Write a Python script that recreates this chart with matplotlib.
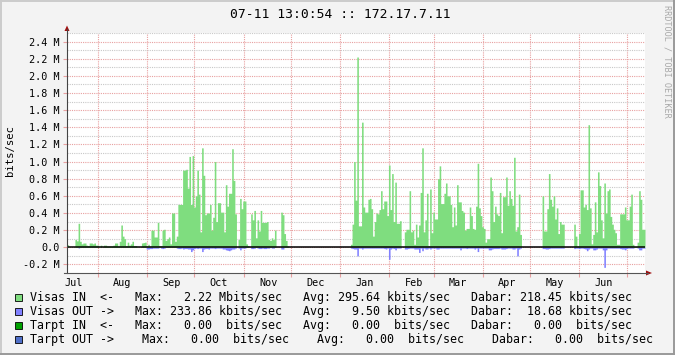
import datetime as dt
import numpy as np
import matplotlib
matplotlib.use("Agg")
import matplotlib.pyplot as plt
from matplotlib.patches import Rectangle, Polygon

plt.rcParams['font.family'] = 'DejaVu Sans Mono'

title = "07-11 13:0:54 :: 172.17.7.11"
y_label = "bits/sec"
watermark = "RRDTOOL / TOBI OETIKER"

# one value per day, starting 2008-07-12 12:00, values in Mbit/s
start = dt.datetime(2008, 7, 12, 12)

month_labels = ["Jul", "Aug", "Sep", "Oct", "Nov", "Dec",
                "Jan", "Feb", "Mar", "Apr", "May", "Jun"]
month_label_dates = [dt.datetime(2008, 7, 16, 12), dt.datetime(2008, 8, 16, 12),
                     dt.datetime(2008, 9, 16, 12), dt.datetime(2008, 10, 16, 12),
                     dt.datetime(2008, 11, 16, 12), dt.datetime(2008, 12, 16, 12),
                     dt.datetime(2009, 1, 16, 12), dt.datetime(2009, 2, 16, 12),
                     dt.datetime(2009, 3, 16, 12), dt.datetime(2009, 4, 16, 12),
                     dt.datetime(2009, 5, 16, 12), dt.datetime(2009, 6, 16, 12)]
month_starts = [dt.datetime(2008, 8, 1), dt.datetime(2008, 9, 1), dt.datetime(2008, 10, 1),
                dt.datetime(2008, 11, 1), dt.datetime(2008, 12, 1), dt.datetime(2009, 1, 1),
                dt.datetime(2009, 2, 1), dt.datetime(2009, 3, 1), dt.datetime(2009, 4, 1),
                dt.datetime(2009, 5, 1), dt.datetime(2009, 6, 1), dt.datetime(2009, 7, 1)]

y_ticks = [-0.2, 0.0, 0.2, 0.4, 0.6, 0.8, 1.0, 1.2, 1.4, 1.6, 1.8, 2.0, 2.2, 2.4]

# Visas IN (Jul 12 - Nov 28)
in_jul_nov = [0.03, 0, 0, 0, 0, 0.09, 0.075, 0.28, 0.07, 0.04,
              0.05, 0.05, 0.025, 0.02, 0.05, 0.05, 0.04, 0.05, 0.025, 0.025,
              0, 0.025, 0, 0.025, 0.025, 0.015, 0.015, 0.015, 0.015, 0.025,
              0.05, 0.05, 0.015, 0.07, 0.26, 0.13, 0.1, 0.02, 0.06, 0.025,
              0.04, 0.07, 0.02, 0.02, 0, 0, 0, 0.05, 0.055, 0.06,
              0.015, 0.035, 0.015, 0.2, 0.2, 0.12, 0.12, 0.29, 0.02, 0.02,
              0.2, 0.21, 0.08, 0.1, 0.12, 0.04, 0.4, 0.4, 0.07, 0.13,
              0.5, 0.5, 0.5, 0.9, 0.9, 0.91, 0.69, 1.06, 0.5, 1.07,
              0.47, 0.6, 0.9, 0.62, 0.18, 1.16, 0.84, 0.38, 0.4, 0.4,
              0.5, 0.2, 0.35, 1.0, 0.3, 0.52, 0.52, 0.41, 0.41, 0.18,
              0.73, 0.48, 0.63, 0.63, 1.15, 0.78, 0.39, 0.0, 0.09, 0.57,
              0.45, 0.54, 0.54, 0.04, 0.02, 0, 0.39, 0.32, 0.43, 0.11,
              0.32, 0.19, 0.43, 0.29, 0.29, 0.29, 0.3, 0.09, 0.08, 0.11,
              0.09, 0.2, 0, 0, 0, 0.41, 0.38, 0.16, 0.08, 0.015]
# Visas IN (Jan 7 - Apr 25)
in_jan_apr = [0.035, 0.27, 1.0, 0.55, 2.22, 0.25, 0.25, 1.46, 0.47, 0.41,
              0.41, 0.56, 0.57, 0.45, 0.13, 0.3, 0.4, 0.39, 0.44, 0.66,
              0.45, 0.54, 0.54, 0.37, 0.96, 0.44, 0.86, 0.3, 0.76, 0.28,
              0.28, 0.31, 0, 0, 0.18, 0.21, 0.21, 0.66, 0.18, 0.2,
              0.035, 0.27, 0.12, 0.26, 0.64, 1.16, 0.18, 0.32, 0.63, 0.02,
              0.68, 0.17, 0.41, 0.33, 0.33, 0.8, 0.95, 0.51, 0.51, 0.63,
              0.75, 0.6, 0.6, 0.5, 0.24, 0.47, 0.26, 0.73, 0.53, 0.53,
              0.43, 0.41, 0.2, 0.22, 0.22, 0.47, 0.37, 0.22, 0.21, 0.48,
              0.98, 0.46, 0.37, 0.24, 0.22, 0.06, 0.1, 0.1, 0.82, 0.66,
              0.3, 0.48, 0.39, 0.37, 0.64, 0.17, 0.59, 0.59, 0.82, 0.49,
              0.66, 0.57, 0.49, 1.05, 0.19, 0.24, 0.62, 0.15]
# Visas IN (May 9 - May 22)
in_may = [0.6, 0.19, 0.19, 0.45, 0.86, 0.56, 0.48, 0.6, 0.33, 0.46, 0.16, 0.3, 0.27, 0.27]
# Visas IN (May 29 - Jul 11)
in_jun_jul = [0.27, 0.13, 0.015, 0.16, 0.67, 0.67, 0.47, 0.5, 0.44, 1.43,
              0.46, 0.04, 0.15, 0.53, 0.18, 0.88, 0.72, 0.32, 0.11, 0.75,
              0.4, 0.66, 0.68, 0.36, 0.27, 0.21, 0.17, 0.035, 0.035, 0.39,
              0.39, 0.39, 0.47, 0.32, 0.32, 0.48, 0.62, 0.035, 0.01, 0.01,
              0.06, 0.66, 0.56, 0.21, 0.21]

# Visas OUT, same days (drawn below zero)
out_jul_nov = [0, 0, 0, 0, 0, 0, 0, 0.008, 0, 0,
               0, 0, 0, 0, 0, 0, 0, 0, 0, 0,
               0, 0, 0, 0, 0, 0, 0, 0, 0, 0,
               0, 0, 0, 0, 0, 0, 0, 0, 0, 0,
               0, 0, 0, 0, 0, 0, 0, 0, 0, 0,
               0.02, 0.02, 0.015, 0.015, 0.01, 0.01, 0.01, 0.01, 0, 0.01,
               0.015, 0.01, 0, 0, 0, 0, 0, 0, 0, 0.01,
               0.015, 0.015, 0.01, 0.02, 0.015, 0.015, 0.02, 0.02, 0.05, 0.03,
               0.015, 0.01, 0.015, 0.01, 0.01, 0.05, 0.02, 0.015, 0.015, 0.02,
               0.01, 0.01, 0.01, 0.015, 0.01, 0.01, 0.01, 0.01, 0.02, 0.02,
               0.03, 0.035, 0.04, 0.03, 0.02, 0.02, 0.01, 0, 0.01, 0.03,
               0.01, 0.01, 0.01, 0, 0, 0, 0.015, 0.015, 0.01, 0,
               0.01, 0.015, 0.015, 0.01, 0.015, 0.015, 0.01, 0.01, 0, 0.01,
               0.01, 0, 0, 0, 0, 0.02, 0.02, 0, 0, 0]
out_jan_apr = [0.01, 0.015, 0.02, 0.02, 0.1, 0.01, 0.01, 0.02, 0.01, 0.01,
               0.01, 0.01, 0.01, 0.01, 0.01, 0.01, 0.01, 0.01, 0.01, 0.01,
               0.01, 0.015, 0.02, 0.01, 0.14, 0.02, 0.01, 0.015, 0.03, 0.01,
               0.01, 0.01, 0, 0, 0.02, 0.02, 0.015, 0.01, 0.01, 0.01,
               0.02, 0.02, 0.02, 0.06, 0.01, 0.04, 0.01, 0.02, 0.02, 0.01,
               0.02, 0.01, 0.01, 0.01, 0.02, 0.02, 0.01, 0.01, 0.01, 0.01,
               0.01, 0.01, 0.01, 0.01, 0.01, 0.01, 0.01, 0.01, 0.01, 0.03,
               0.01, 0.01, 0.01, 0.015, 0.01, 0.01, 0.01, 0.01, 0.02, 0.01,
               0.05, 0.01, 0.01, 0.01, 0.01, 0.01, 0.01, 0.03, 0.03, 0.02,
               0.015, 0.015, 0.015, 0.015, 0.01, 0.02, 0.02, 0.02, 0.015, 0.01,
               0.01, 0.01, 0.02, 0.02, 0.01, 0.1, 0.02, 0.01]
out_may = [0.015, 0.015, 0.02, 0.02, 0.015, 0.01, 0.01, 0.01, 0.01, 0.01, 0.01, 0.01, 0.01, 0.01]
out_jun_jul = [0.015, 0.01, 0.01, 0.015, 0.01, 0.01, 0.015, 0.02, 0.04, 0.02,
               0.01, 0.01, 0.03, 0.03, 0.02, 0.01, 0.01, 0.01, 0.03, 0.234,
               0.03, 0.01, 0.01, 0.01, 0.01, 0.01, 0.01, 0.01, 0.01, 0.015,
               0.02, 0.02, 0.03, 0.015, 0.01, 0.01, 0.01, 0.01, 0, 0,
               0.01, 0.03, 0.03, 0.01, 0.01]

# days without data
gap_dec = [0] * 39
gap_apr = [0] * 13
gap_may = [0] * 6

legend_rows = [
    ("#7FDD7F", "Visas IN  <-   Max:   2.22 Mbits/sec   Avg: 295.64 kbits/sec   Dabar: 218.45 kbits/sec"),
    ("#8080FF", "Visas OUT ->   Max: 233.86 kbits/sec   Avg:   9.50 kbits/sec   Dabar:  18.68 kbits/sec"),
    ("#00A000", "Tarpt IN  <-   Max:   0.00  bits/sec   Avg:   0.00  bits/sec   Dabar:   0.00  bits/sec"),
    ("#4F6FC8", "Tarpt OUT ->    Max:   0.00  bits/sec    Avg:   0.00  bits/sec    Dabar:   0.00  bits/sec"),
]

visas_in = np.array(in_jul_nov + gap_dec + in_jan_apr + gap_apr + in_may + gap_may + in_jun_jul)
visas_out = np.array(out_jul_nov + gap_dec + out_jan_apr + gap_apr + out_may + gap_may + out_jun_jul)
n_days = len(visas_in)


def day_of(d):
    return (d - start).total_seconds() / 86400.0


W, H = 675, 355
fig = plt.figure(figsize=(W / 100, H / 100), dpi=100, facecolor="#F3F3F3")

ax = fig.add_axes([67 / W, 82 / H, 578 / W, 240 / H], zorder=1)
ax.set_facecolor("white")

# bars
x = np.arange(n_days + 1)
ax.fill_between(x, 0, np.append(visas_in, visas_in[-1]), step="post",
                color="#7FDD7F", lw=0, zorder=2)
ax.fill_between(x, 0, -np.append(visas_out, visas_out[-1]), step="post",
                color="#8080FF", lw=0, zorder=2)
ax.axhline(0, color="black", lw=1.1, zorder=3)

ax.set_xlim(0, 365)
ax.set_ylim(-0.3, 2.5)

# grid
ax.set_axisbelow(True)
ax.set_xticks([day_of(d) for d in month_starts])
ax.set_xticklabels([])
ax.set_xticks([day_of(d) for d in month_label_dates], minor=True)
ax.set_xticklabels(month_labels, minor=True)
ax.set_yticks(y_ticks)
ax.set_yticklabels(["0.0" if v == 0 else f"{v:.1f} M" for v in y_ticks])
ax.set_yticks(np.arange(-0.1, 2.55, 0.2), minor=True)

mgrid = "#E8A0A0"
ax.grid(which="major", color=mgrid, ls=(0, (1, 1)), lw=0.8)
ax.grid(which="minor", axis="y", color="#C8C8C8", ls=(0, (1, 1)), lw=0.8)
ax.tick_params(axis="x", which="major", length=3, color=mgrid, direction="out")
ax.tick_params(axis="x", which="minor", length=0, pad=3.5, labelsize=7.3)
ax.tick_params(axis="y", which="major", length=3, color=mgrid, direction="out",
               pad=2, labelsize=7.3)
ax.tick_params(axis="y", which="minor", length=0)
for s in ax.spines.values():
    s.set_visible(False)

# overlay in pixel coordinates for frame, axes arrows and texts
ov = fig.add_axes([0, 0, 1, 1], zorder=5)
ov.set_xlim(0, W)
ov.set_ylim(H, 0)
ov.axis("off")
ov.patch.set_visible(False)

ov.plot([67, 67], [273, 29], color="#444444", lw=0.8)
ov.plot([64, 648], [273, 273], color="#555555", lw=0.8)
ov.add_patch(Polygon([(64.5, 31), (69.5, 31), (67, 25.5)], closed=True, color="#A01010", lw=0))
ov.add_patch(Polygon([(646, 270.5), (646, 275.5), (652, 273)], closed=True, color="#A01010", lw=0))

# frame shading
ov.plot([0, W], [0.8, 0.8], color="#CBCBCB", lw=1.4)
ov.plot([0.8, 0.8], [0, H], color="#CBCBCB", lw=1.4)
ov.plot([0, W], [H - 0.8, H - 0.8], color="#999999", lw=1.4)
ov.plot([W - 0.8, W - 0.8], [0, H], color="#999999", lw=1.4)

ov.text(340, 18.3, title, ha="center", va="baseline", fontsize=9.4, color="black")
ov.text(10.5, 150, y_label, ha="center", va="center", rotation=90, fontsize=7.6)
ov.text(666.5, 5, watermark, ha="center", va="top", rotation=-90,
        fontsize=6.1, color="#A8A8A8")

for i, (col, txt) in enumerate(legend_rows):
    yc = 297.5 + 14 * i
    ov.add_patch(Rectangle((14.5, yc - 4), 7.5, 7.5, facecolor=col,
                           edgecolor="black", lw=0.6))
    ov.text(30, yc, txt, ha="left", va="center", fontsize=8.42)

fig.savefig("out.png", dpi=100, facecolor=fig.get_facecolor())
